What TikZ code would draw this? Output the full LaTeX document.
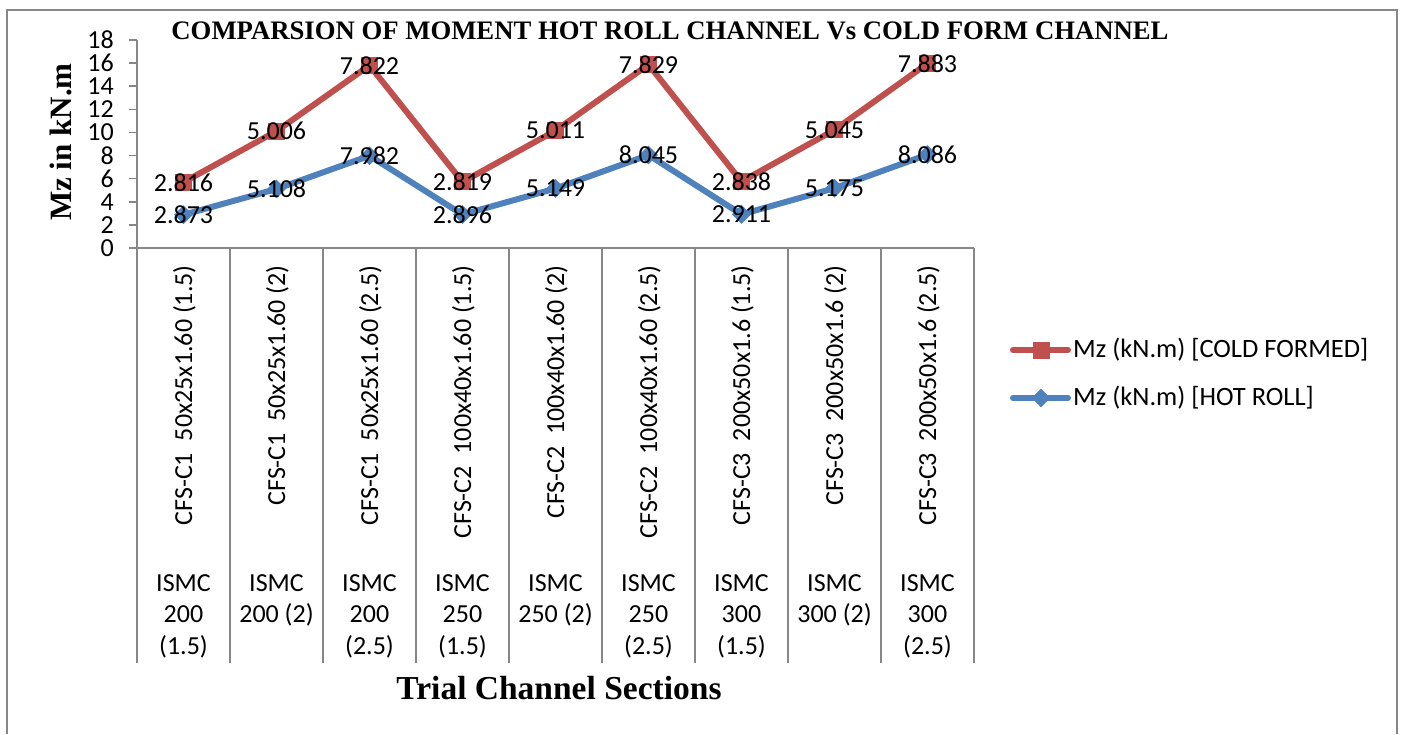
\documentclass[tikz,border=0pt]{standalone}
\usepackage{fontspec}
\setmainfont{Liberation Serif}
\newfontfamily\carl{Carlito}
\usetikzlibrary{shapes.geometric}
\definecolor{cfred}{HTML}{C0504D}
\definecolor{hrblue}{HTML}{4F81BD}
\definecolor{axisgray}{HTML}{878787}
\begin{document}
\begin{tikzpicture}[x=1pt,y=-1pt,
  axisline/.style={axisgray, line width=1.5pt},
  cfline/.style={cfred, line width=6pt, line join=round, line cap=round},
  hrline/.style={hrblue, line width=6pt, line join=round, line cap=round},
  sqmark/.style={rectangle, fill=cfred, minimum size=17pt, inner sep=0pt},
  dimark/.style={diamond, fill=hrblue, minimum width=19pt, minimum height=19pt, inner sep=0pt},
  vallab/.style={font=\carl\fontsize{26}{26}\selectfont, inner sep=0pt},
  ticklab/.style={anchor=east, font=\carl\fontsize{26}{26}\selectfont, inner sep=0pt},
  catlab/.style={rotate=90, anchor=east, font=\carl\fontsize{26}{26}\selectfont, inner sep=0pt},
  ismclab/.style={anchor=north, align=center, font=\carl\fontsize{26}{31.5}\selectfont, inner sep=0pt},
  legtext/.style={anchor=west, font=\carl\fontsize{26.5}{26.5}\selectfont, inner sep=0pt},
  heading/.style={font=\fontsize{26.7}{26.7}\selectfont\bfseries, inner sep=0pt},
  axtitle/.style={font=\fontsize{31}{31}\selectfont\bfseries, inner sep=0pt},
  xtitlestyle/.style={font=\fontsize{33.5}{33.5}\selectfont\bfseries, inner sep=0pt}]
\useasboundingbox (0,0) rectangle (1405,734);
\fill[white] (0,0) rectangle (1405,734);

% outer chart frame
\draw[axisline] (7,734) -- (7,10) -- (1397,10) -- (1397,734);

% title and axis titles
\node[heading] (title) at (670,31) {COMPARSION OF MOMENT HOT ROLL CHANNEL Vs COLD FORM CHANNEL};
\node[axtitle, rotate=90] (ytitle) at (61,142) {Mz in kN.m};
\node[xtitlestyle] (xtitle) at (559,688) {Trial Channel Sections};

% value axis: ticks every 2 kN.m
\draw[axisline] (137,40) -- (137,248);
\foreach \v in {0,2,...,18} {
  \draw[axisline] (129,{248-\v*208/18}) -- (137,{248-\v*208/18});
  \node[ticklab] (yt\v) at (114,{248-\v*208/18}) {\v};
}

% category axis as a two-level table
\draw[axisline] (129,248) -- (974,248);
\foreach \k in {0,...,9} {
  \draw[axisline] ({137+93*\k},248) -- ({137+93*\k},663);
}

\foreach \i/\t in {1/{CFS-C1\ \ 50x25x1.60 (1.5)},2/{CFS-C1\ \ 50x25x1.60 (2)},3/{CFS-C1\ \ 50x25x1.60 (2.5)},
                   4/{CFS-C2\ \ 100x40x1.60 (1.5)},5/{CFS-C2\ \ 100x40x1.60 (2)},6/{CFS-C2\ \ 100x40x1.60 (2.5)},
                   7/{CFS-C3\ \ 200x50x1.6 (1.5)},8/{CFS-C3\ \ 200x50x1.6 (2)},9/{CFS-C3\ \ 200x50x1.6 (2.5)}} {
  \node[catlab] (cat\i) at ({137+93*(\i-0.5)+1},265) {\t};
}
\foreach \i/\t in {1/{ISMC\\200\\(1.5)},2/{ISMC\\200 (2)},3/{ISMC\\200\\(2.5)},
                   4/{ISMC\\250\\(1.5)},5/{ISMC\\250 (2)},6/{ISMC\\250\\(2.5)},
                   7/{ISMC\\300\\(1.5)},8/{ISMC\\300 (2)},9/{ISMC\\300\\(2.5)}} {
  \node[ismclab] (ismc\i) at ({137+93*(\i-0.5)},574) {\t};
}

% data series (cold formed stacked on hot roll)
\begin{scope}[shift={(137,248)}, x=93pt, y=11.5556pt]
  \foreach \i/\b/\r in {1/2.873/5.689,2/5.108/10.114,3/7.982/15.804,4/2.896/5.715,5/5.149/10.160,
                        6/8.045/15.874,7/2.911/5.749,8/5.175/10.220,9/8.086/15.969} {
    \coordinate (b\i) at (\i-0.5,\b);
    \coordinate (r\i) at (\i-0.5,\r);
  }
  \draw[hrline] (b1) -- (b2) -- (b3) -- (b4) -- (b5) -- (b6) -- (b7) -- (b8) -- (b9);
  \draw[cfline] (r1) -- (r2) -- (r3) -- (r4) -- (r5) -- (r6) -- (r7) -- (r8) -- (r9);
  \foreach \i in {1,...,9} {
    \node[dimark] (bm\i) at (b\i) {};
    \node[sqmark] (rm\i) at (r\i) {};
  }
  \foreach \i/\l in {1/2.873,2/5.108,3/7.982,4/2.896,5/5.149,6/8.045,7/2.911,8/5.175,9/8.086}
    \node[vallab] (bl\i) at (b\i) {\l};
  \foreach \i/\l in {1/2.816,2/5.006,3/7.822,4/2.819,5/5.011,6/7.829,7/2.838,8/5.045,9/7.883}
    \node[vallab] (rl\i) at (r\i) {\l};
\end{scope}

% legend
\coordinate (lr0) at (1013,350);
\coordinate (lr1) at (1068,350);
\coordinate (lb0) at (1013,398);
\coordinate (lb1) at (1068,398);
\draw[cfline] (lr0) -- (lr1);
\draw[hrline] (lb0) -- (lb1);
\node[sqmark] (lrm) at (1041,350) {};
\node[dimark] (lbm) at (1041,398) {};
\node[legtext] (lrt) at (1073,350) {Mz (kN.m) [COLD FORMED]};
\node[legtext] (lbt) at (1073,398) {Mz (kN.m) [HOT ROLL]};
\end{tikzpicture}
\end{document}
